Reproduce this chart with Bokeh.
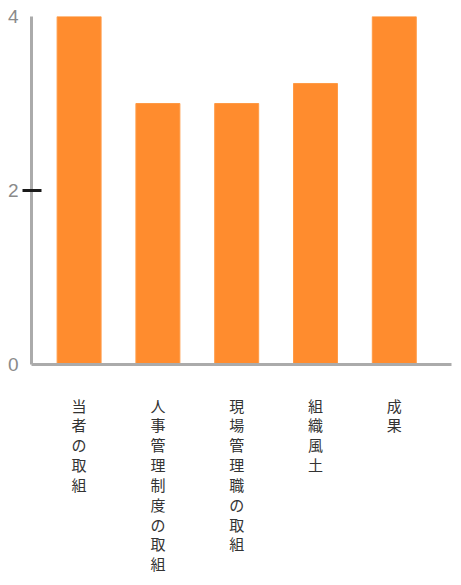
from bokeh.plotting import figure
from bokeh.models import Range1d, FixedTicker, ColumnDataSource
from bokeh.embed import file_html
from bokeh.resources import INLINE

categories = ["当者の取組", "人事管理制度の取組", "現場管理職の取組", "組織風土", "成果"]
values = [4.0, 3.0, 3.0, 3.23, 4.0]
y_ticks = [0, 2, 4]
y_marked_tick = [2]

xs = list(range(len(categories)))
src = ColumnDataSource(dict(x=xs, top=values))

p = figure(width=453, height=577, output_backend="svg", toolbar_location=None,
           x_range=Range1d(-0.604, 4.726), y_range=Range1d(0, 4),
           min_border_left=31, min_border_right=2, min_border_top=16,
           min_border_bottom=213)
p.outline_line_color = None
p.xgrid.grid_line_color = None
p.ygrid.grid_line_color = None
p.background_fill_color = "white"
p.border_fill_color = "white"

p.vbar(x="x", top="top", bottom=0, width=0.558, source=src,
       fill_color="#ff8c2e", line_color="#ff9a45", line_width=1)

# x axis
p.xaxis.ticker = FixedTicker(ticks=xs)
p.xaxis.major_label_overrides = {i: "\n".join(c) for i, c in zip(xs, categories)}
p.xaxis.axis_line_color = "#ababab"
p.xaxis.axis_line_width = 3
p.xaxis.major_tick_line_color = None
p.xaxis.minor_tick_line_color = None
p.xaxis.major_tick_out = 0
p.xaxis.major_tick_in = 0
p.xaxis.major_label_standoff = 30
p.xaxis.major_label_text_font = "Noto Sans CJK JP"
p.xaxis.major_label_text_font_size = "15px"
p.xaxis.major_label_text_color = "#333333"
p.xaxis.major_label_text_line_height = 0.945

# y axis
p.yaxis.ticker = FixedTicker(ticks=y_ticks, minor_ticks=y_marked_tick)
p.yaxis.axis_line_color = "#ababab"
p.yaxis.axis_line_width = 3
p.yaxis.major_tick_line_color = None
p.yaxis.major_tick_out = 0
p.yaxis.major_tick_in = 0
p.yaxis.minor_tick_line_color = "#1a1a1a"
p.yaxis.minor_tick_line_width = 3
p.yaxis.minor_tick_in = 10
p.yaxis.minor_tick_out = 9
p.yaxis.major_label_standoff = 4
p.yaxis.major_label_text_font = "Liberation Sans"
p.yaxis.major_label_text_font_size = "19px"
p.yaxis.major_label_text_color = "#8a8a8a"

open("out.html", "w").write(file_html(p, INLINE))
